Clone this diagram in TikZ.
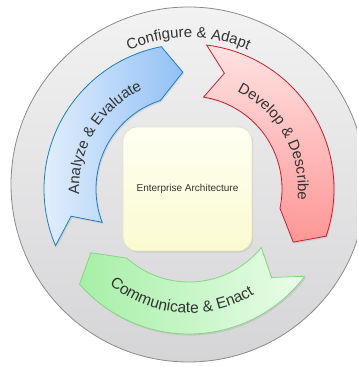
\documentclass[tikz,border=0pt]{standalone}
\usepackage{fontspec}
\setmainfont{Liberation Sans}
\usetikzlibrary{shadows}
\definecolor{txtgray}{HTML}{333333}
\definecolor{ringA}{HTML}{F2F2F3}
\definecolor{ringB}{HTML}{D5D5D7}
\definecolor{ringE}{HTML}{8A8A8A}
\definecolor{blueA}{HTML}{E6F1FD}
\definecolor{blueB}{HTML}{92C0F5}
\definecolor{blueE}{HTML}{1E7DC2}
\definecolor{redA}{HTML}{FFE2E2}
\definecolor{redB}{HTML}{FF9696}
\definecolor{redE}{HTML}{C8202E}
\definecolor{greenA}{HTML}{A6EFA6}
\definecolor{greenB}{HTML}{EAFDEA}
\definecolor{greenE}{HTML}{86D486}
\definecolor{boxA}{HTML}{FFFFF3}
\definecolor{boxB}{HTML}{FAFAD0}
\definecolor{boxE}{HTML}{E6E2C2}
\font\arcraw="Liberation Sans" at 15pt
\font\arcrawB="Liberation Sans" at 15.6pt
\newdimen\arcw
\newdimen\arcpos
\newsavebox\arcbox
% #1 name prefix, #2 radius, #3 centre angle, #4 direction (1 = clockwise, tops outward; -1 = anticlockwise, tops inward), #5 font, #6 characters
\newcommand\arctext[6]{%
  \global\arcpos=0pt
  \foreach \ch in {#6}{\sbox\arcbox{#5\ch}\global\advance\arcpos by \wd\arcbox}%
  \edef\arctotal{\the\arcpos}%
  \global\arcpos=0pt
  \foreach \ch [count=\i] in {#6}{%
    \sbox\arcbox{#5\ch}%
    \arcw=\wd\arcbox
    \edef\curpos{\the\arcpos}%
    \edef\curw{\the\arcw}%
    \pgfmathsetmacro\ang{#3 + #4*((\arctotal/2) - \curpos - \curw/2)/#2*180/pi}%
    \pgfmathsetmacro\rot{\ang - 90*#4}%
    \node[arcchar,font=#5,rotate=\rot] (#1\i) at (\ang:#2) {\ch};
    \global\advance\arcpos by \arcw
  }%
}
\begin{document}
\begin{tikzpicture}[x=1pt,y=1pt,
  arcchar/.style={anchor=base,inner sep=0pt,text=txtgray},
  softshadow/.style={drop shadow={opacity=0.18,shadow xshift=1.2pt,shadow yshift=-1.6pt}},
  ring/.style={draw=ringE,line width=0.8pt,top color=ringA,bottom color=ringB},
  bluearrow/.style={softshadow,draw=blueE,line width=0.8pt,left color=blueA,right color=blueB},
  redarrow/.style={softshadow,draw=redE,line width=0.8pt,top color=redA,bottom color=redB},
  greenarrow/.style={softshadow,draw=greenE,line width=0.8pt,left color=greenA,right color=greenB},
  centerbox/.style={softshadow,draw=boxE,line width=0.8pt,rounded corners=14pt,top color=boxA,bottom color=boxB,
    minimum width=129pt,minimum height=124pt,inner sep=0pt,font=\fontsize{10}{12}\selectfont,text=txtgray}]
\useasboundingbox (0,0) rectangle (357,367);
\clip (0,0) rectangle (357,367);
% outer ring
\draw[ring] (188.5,182.5) circle[radius=177.5];
\begin{scope}[shift={(188.5,182.5)}]
  \arctext{ca}{147}{90}{1}{\arcraw}{C,o,n,f,i,g,u,r,e,\ ,\&,\ ,A,d,a,p,t}
\end{scope}
\begin{scope}[shift={(189,178)}]
  % blue arrow
  \draw[bluearrow] (203:145) arc[start angle=203,end angle=101,radius=145]
    -- (93:117) -- (108:93) arc[start angle=108,end angle=201,radius=93]
    -- (193:121) -- cycle;
  % red arrow
  \draw[redarrow] (83:145) arc[start angle=83,end angle=-19,radius=145]
    -- (-27:117) -- (-12:93) arc[start angle=-12,end angle=81,radius=93]
    -- (73:121) -- cycle;
  % green arrow
  \draw[greenarrow] (323:145) arc[start angle=323,end angle=221,radius=145]
    -- (213:117) -- (228:93) arc[start angle=228,end angle=321,radius=93]
    -- (313:121) -- cycle;
  % labels
  \arctext{ae}{110}{149}{1}{\arcraw}{A,n,a,l,y,z,e,\ ,\&,\ ,E,v,a,l,u,a,t,e}
  \arctext{dd}{109}{29}{1}{\arcraw}{D,e,v,e,l,o,p,\ ,\&,\ ,D,e,s,c,r,i,b,e}
  \arctext{ce}{124}{266}{-1}{\arcrawB}{C,o,m,m,u,n,i,c,a,t,e,\ ,\&,\ ,E,n,a,c,t}
\end{scope}
\node[centerbox] (ea) at (187.5,178) {Enterprise Architecture};
\end{tikzpicture}
\end{document}
